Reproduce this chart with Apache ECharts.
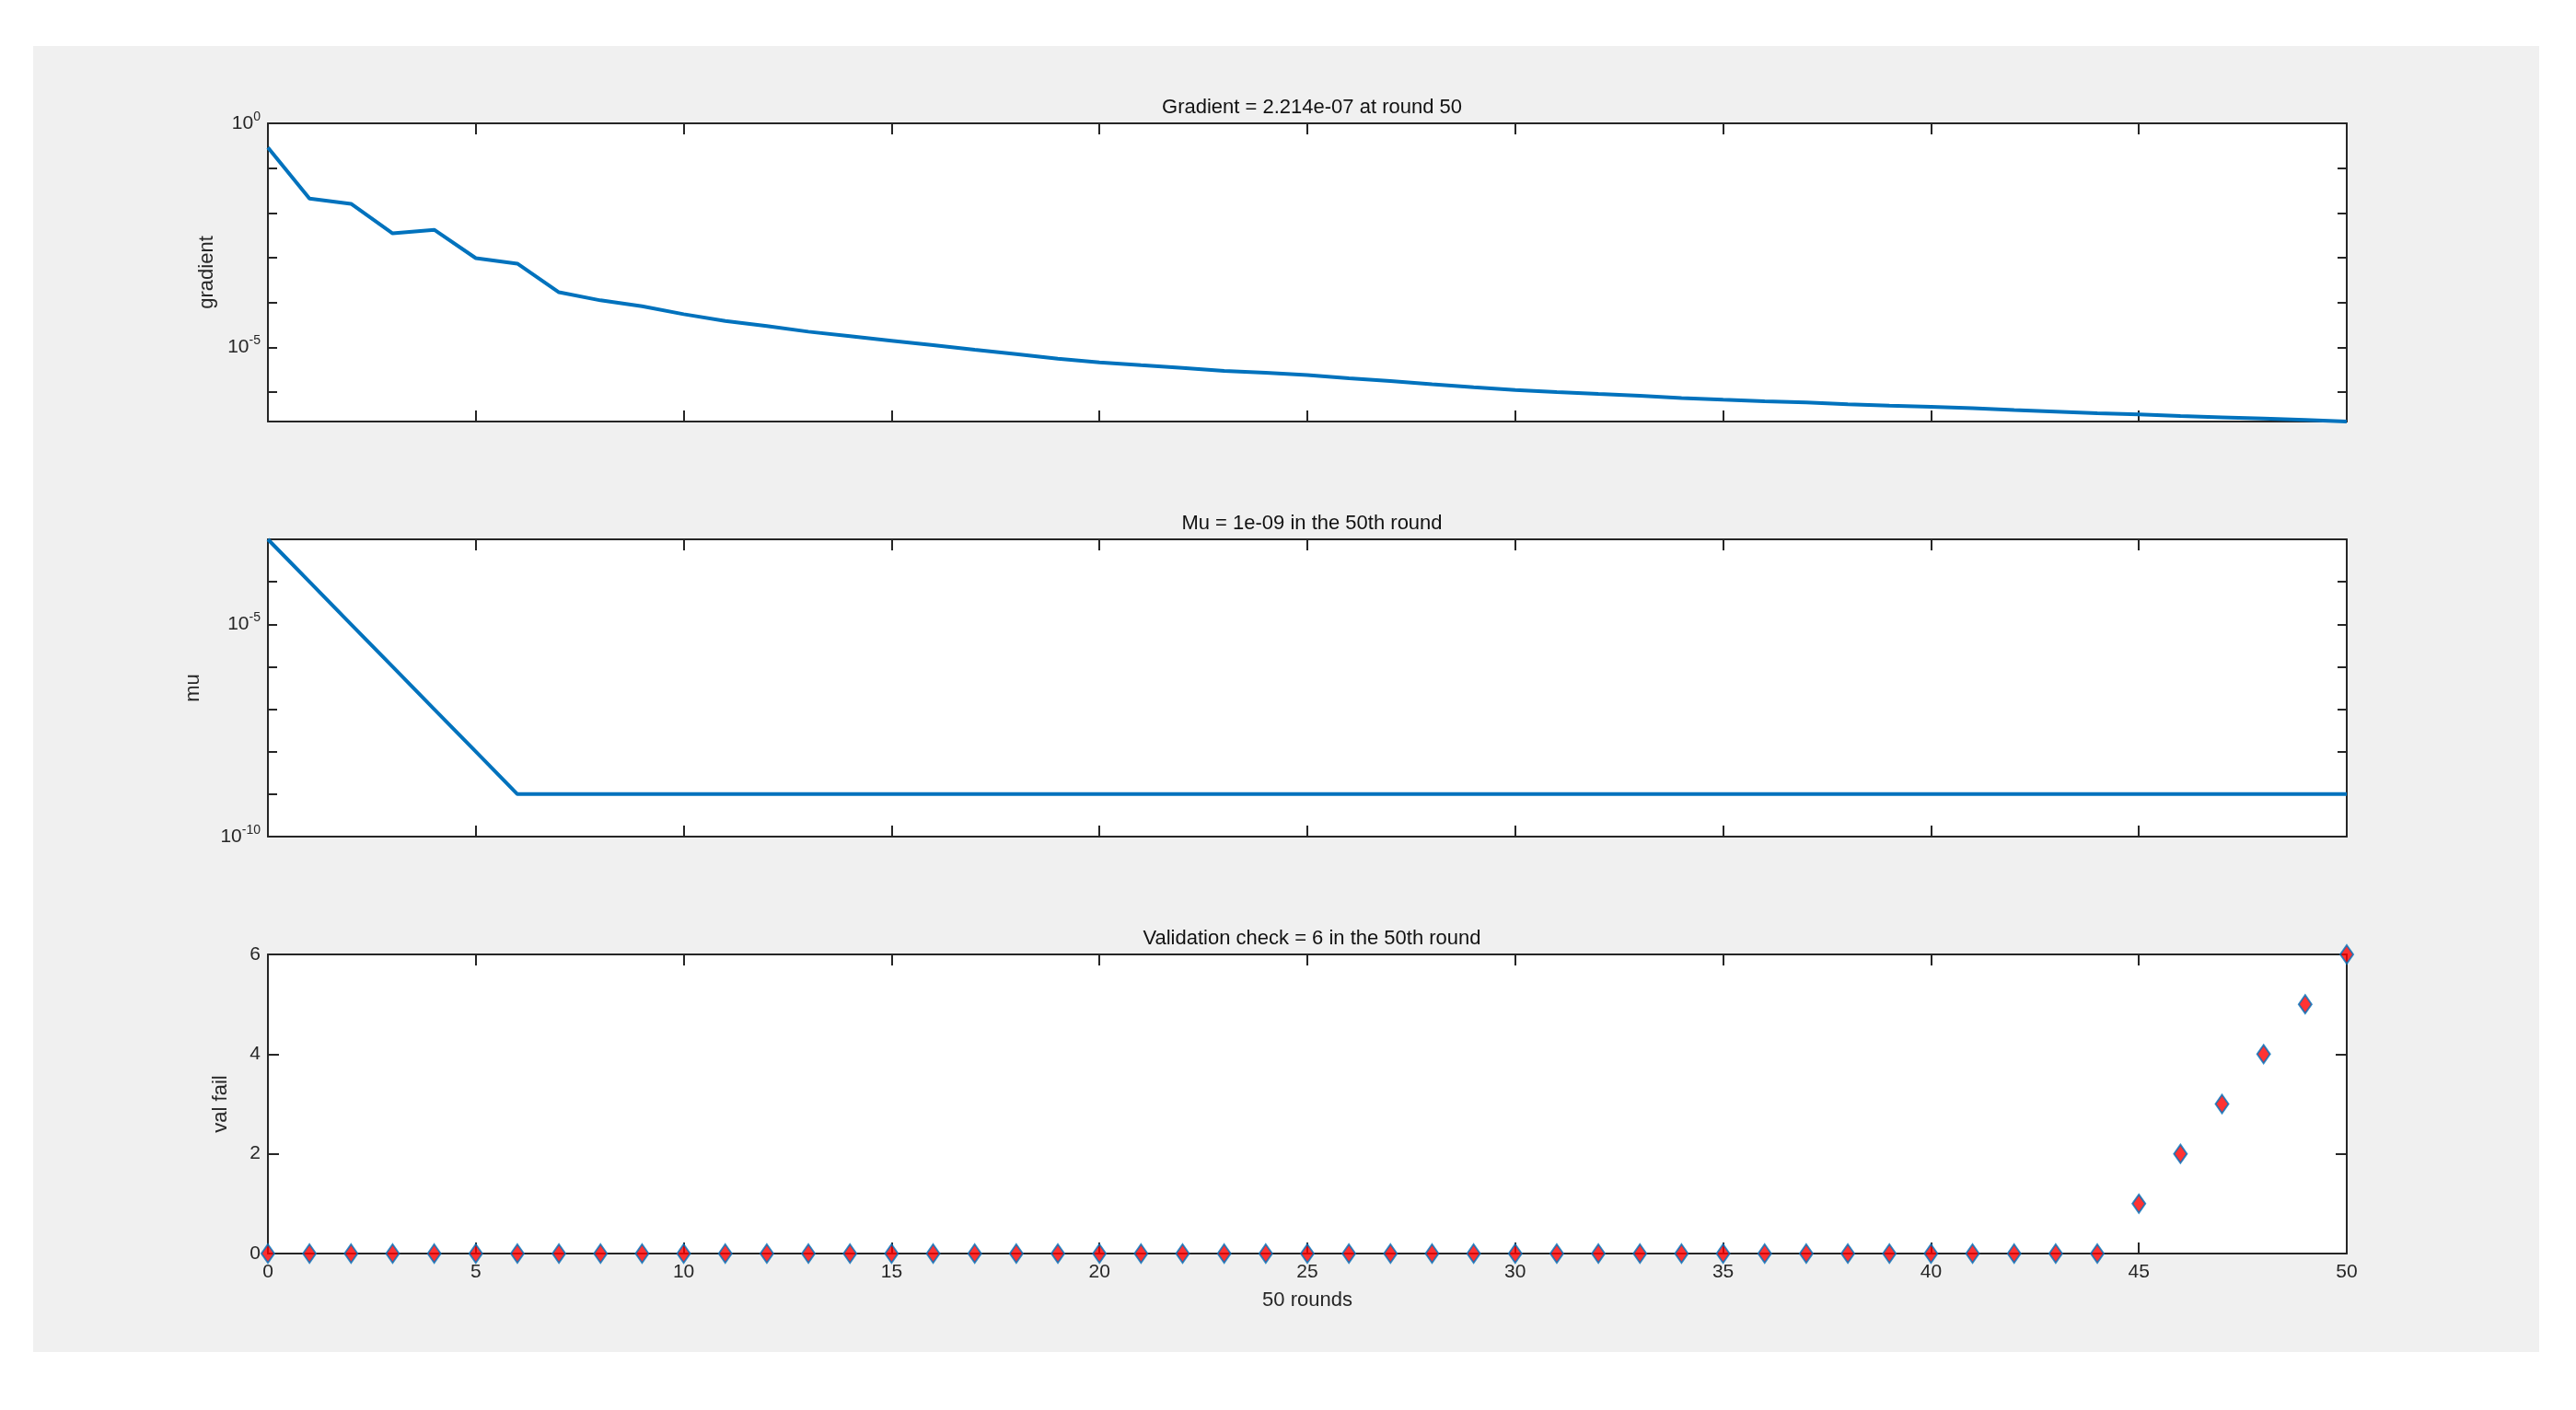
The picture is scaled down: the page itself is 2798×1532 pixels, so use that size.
<!DOCTYPE html>
<html><head><meta charset="utf-8">
<script src="https://cdn.jsdelivr.net/npm/echarts@6/dist/echarts.min.js"></script>
<style>html,body{margin:0;background:#fff}#c{width:2798px;height:1532px}</style>
</head><body><div id="c"></div>
<script>
const rounds = Array.from({length:51},(_,i)=>i);
const gradient = [0.29,0.021,0.016,0.0035,0.0042,0.00098,0.00074,0.00017,0.000112,0.000083,0.000055,0.000039,0.000030,
 2.24e-5,1.78e-5,1.41e-5,1.12e-5,8.9e-6,7.1e-6,5.6e-6,4.6e-6,4.0e-6,3.5e-6,3.0e-6,2.7e-6,2.4e-6,2.04e-6,1.78e-6,1.51e-6,
 1.29e-6,1.12e-6,1.0e-6,9.1e-7,8.3e-7,7.4e-7,6.8e-7,6.3e-7,5.9e-7,5.4e-7,5.0e-7,4.7e-7,4.4e-7,4.0e-7,3.7e-7,3.4e-7,
 3.2e-7,2.95e-7,2.75e-7,2.57e-7,2.4e-7,2.214e-7];
const mu = [1e-3,1e-4,1e-5,1e-6,1e-7,1e-8].concat(Array(45).fill(1e-9));
const valFail = Array(45).fill(0).concat([1,2,3,4,5,6]);
const titles = ['Gradient = 2.214e-07 at round 50','Mu = 1e-09 in the 50th round','Validation check = 6 in the 50th round'];

const L=291, R=2798-2549;
const tops=[134,586,1037], heights=[324,323,325];
const font='Liberation Sans, Arial, sans-serif';
const ax='#262626';
const grids=tops.map((t,i)=>({left:L,right:R,top:t,height:heights[i],backgroundColor:'#fff',show:true,borderWidth:0}));
const sup=v=>'10{s|'+v+'}';
const rich={s:{fontSize:14,verticalAlign:'top',padding:[0,0,14,0],color:ax,fontFamily:font}};
const line={show:true,onZero:false,lineStyle:{color:ax,width:2}};
const xAxis=[],yAxis=[];
for(let i=0;i<3;i++){
  const common={type:'value',gridIndex:i,min:0,max:50,interval:5,axisLine:line,axisTick:{inside:true,length:12,lineStyle:{color:ax,width:2}},splitLine:{show:false}};
  xAxis.push(Object.assign({},common,{position:'bottom',axisLabel:{show:i===2,color:ax,fontSize:21,fontFamily:font,margin:10},
    name:i===2?'50 rounds':'',nameLocation:'middle',nameGap:40,nameTextStyle:{fontSize:22,color:ax,fontFamily:font}}));
  xAxis.push(Object.assign({},common,{position:'top',axisLabel:{show:false}}));
}
const yc={axisLine:line,splitLine:{show:false},nameLocation:'middle',nameTextStyle:{fontSize:22,color:ax,fontFamily:font}};
const gMin=Math.log10(2.214e-7);
yAxis.push(Object.assign({},yc,{type:'value',gridIndex:0,min:gMin,max:0,name:'gradient',nameGap:55,
  axisTick:{inside:true,length:10,customValues:[-6,-5,-4,-3,-2,-1,0],lineStyle:{color:ax,width:2}},
  axisLabel:{customValues:[-5,0],formatter:v=>sup(Math.round(v)),color:ax,fontSize:21,fontFamily:font,rich}}));
yAxis.push(Object.assign({},yc,{type:'value',gridIndex:0,position:'right',min:gMin,max:0,axisTick:{inside:true,length:10,customValues:[-6,-5,-4,-3,-2,-1,0],lineStyle:{color:ax,width:2}},axisLabel:{show:false}}));
yAxis.push(Object.assign({},yc,{type:'value',gridIndex:1,min:-10,max:-3,name:'mu',nameGap:70,
  axisTick:{inside:true,length:10,customValues:[-10,-9,-8,-7,-6,-5,-4,-3],lineStyle:{color:ax,width:2}},
  axisLabel:{customValues:[-10,-5],formatter:v=>sup(Math.round(v)),color:ax,fontSize:21,fontFamily:font,rich}}));
yAxis.push(Object.assign({},yc,{type:'value',gridIndex:1,position:'right',min:-10,max:-3,axisTick:{inside:true,length:10,customValues:[-10,-9,-8,-7,-6,-5,-4,-3],lineStyle:{color:ax,width:2}},axisLabel:{show:false}}));
yAxis.push(Object.assign({},yc,{type:'value',gridIndex:2,min:0,max:6,interval:2,name:'val fail',nameGap:40,
  axisTick:{inside:true,length:12,lineStyle:{color:ax,width:2}},axisLabel:{color:ax,fontSize:21,fontFamily:font}}));
yAxis.push(Object.assign({},yc,{type:'value',gridIndex:2,position:'right',min:0,max:6,interval:2,axisTick:{inside:true,length:12,lineStyle:{color:ax,width:2}},axisLabel:{show:false}}));

const blue='#0072BD';
const option={
  backgroundColor:'#fff',animation:false,
  graphic:[{type:'rect',z:-10,shape:{x:36,y:50,width:2722,height:1419},style:{fill:'#f0f0f0'}}],
  title:titles.map((t,i)=>({text:t,left:L+(2798-L-R)/2,textAlign:'center',top:tops[i]-33,textStyle:{fontSize:22,fontWeight:'normal',color:'#111',fontFamily:font}})),
  grid:grids,xAxis,yAxis,
  series:[
    {type:'line',xAxisIndex:0,yAxisIndex:0,showSymbol:false,lineStyle:{color:blue,width:4},data:rounds.map((r,i)=>[r,Math.log10(gradient[i])])},
    {type:'line',xAxisIndex:2,yAxisIndex:2,showSymbol:false,lineStyle:{color:blue,width:4},data:rounds.map((r,i)=>[r,Math.log10(mu[i])])},
    {type:'scatter',xAxisIndex:4,yAxisIndex:4,symbol:'diamond',symbolSize:[14,20],itemStyle:{color:'#ff0000',borderColor:blue,borderWidth:2},data:rounds.map((r,i)=>[r,valFail[i]]),clip:false}
  ]
};
echarts.init(document.getElementById('c')).setOption(option);
</script></body></html>
